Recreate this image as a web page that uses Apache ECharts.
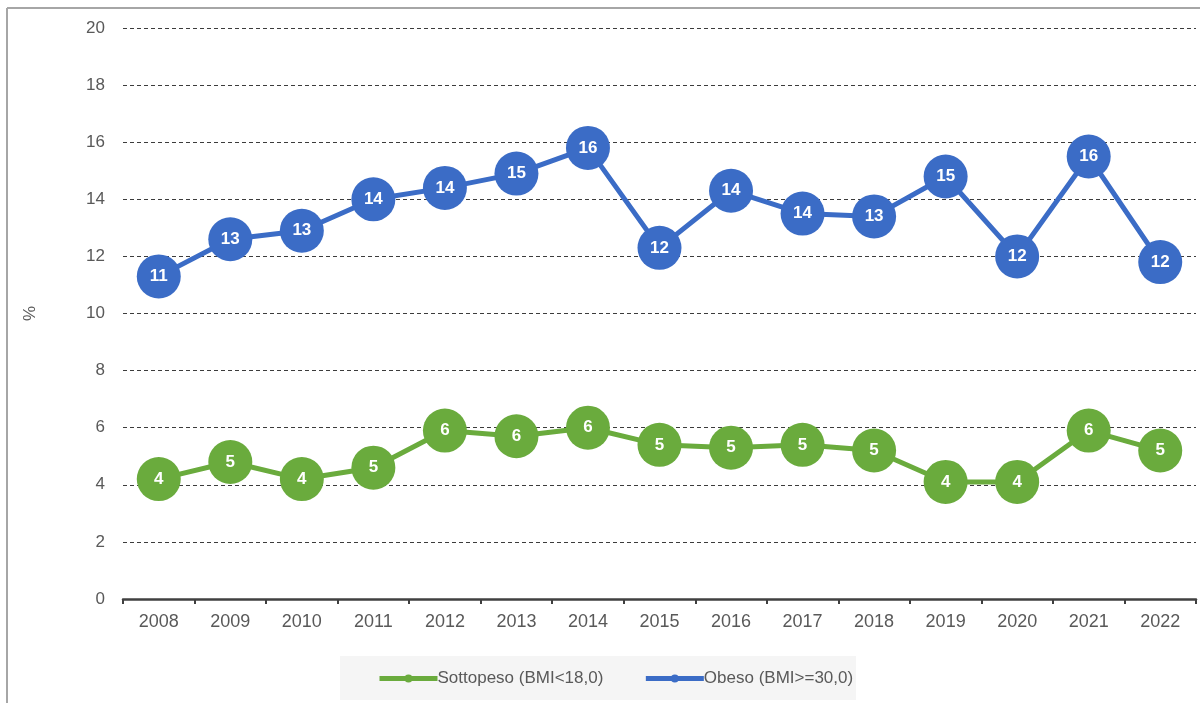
<!DOCTYPE html>
<html>
<head>
<meta charset="utf-8">
<script src="https://cdn.jsdelivr.net/npm/echarts@6/dist/echarts.min.js"></script>
<style>
  html, body { margin: 0; padding: 0; background: #ffffff; }
  #chart { width: 1200px; height: 703px; }
</style>
</head>
<body>
<div id="chart"></div>
<script>
// Years on the category axis
const years = ['2008', '2009', '2010', '2011', '2012', '2013', '2014', '2015',
               '2016', '2017', '2018', '2019', '2020', '2021', '2022'];

// Share of the population (%) by BMI class
const sottopeso = [4.2, 4.8, 4.2, 4.6, 5.9, 5.7, 6.0, 5.4, 5.3, 5.4, 5.2, 4.1, 4.1, 5.9, 5.2];
const obeso = [11.3, 12.6, 12.9, 14.0, 14.4, 14.9, 15.8, 12.3, 14.3, 13.5, 13.4, 14.8, 12.0, 15.5, 11.8];

const seriesNames = ['Sottopeso (BMI<18,0)', 'Obeso (BMI>=30,0)'];

const GREEN = '#6aab3d';
const BLUE = '#3b6cc6';
const TEXT = '#595959';
const FONT = '"Liberation Sans", Arial, sans-serif';

const chart = echarts.init(document.getElementById('chart'), null, { renderer: 'canvas' });

function lineSeries(name, data, color) {
  return {
    name: name,
    type: 'line',
    data: data,
    symbol: 'circle',
    symbolSize: 44,
    lineStyle: { color: color, width: 5 },
    itemStyle: { color: color },
    label: {
      show: true,
      position: 'inside',
      color: '#ffffff',
      fontFamily: FONT,
      fontWeight: 'bold',
      fontSize: 17,
      formatter: p => String(Math.round(p.value))
    },
    emphasis: { disabled: true },
    animation: false,
    z: 3
  };
}

chart.setOption({
  animation: false,
  backgroundColor: '#ffffff',
  textStyle: { fontFamily: FONT },
  graphic: [
    // outer frame (left and top edges)
    { type: 'line', shape: { x1: 7, y1: 8, x2: 7, y2: 703 }, style: { stroke: '#a6a6a6', lineWidth: 2 }, silent: true },
    { type: 'line', shape: { x1: 7, y1: 8, x2: 1200, y2: 8 }, style: { stroke: '#a6a6a6', lineWidth: 2 }, silent: true },
    // legend panel
    { type: 'rect', shape: { x: 340, y: 656, width: 516, height: 44 }, style: { fill: '#f5f5f5' }, silent: true, z: -1 }
  ],
  grid: { left: 123, right: 4, top: 28, bottom: 104, containLabel: false },
  legend: {
    data: seriesNames,
    left: 372,
    top: 665,
    itemWidth: 58,
    itemHeight: 10,
    itemGap: 40,
    lineStyle: { width: 5 },
    itemStyle: { borderWidth: 0 },
    textStyle: { color: TEXT, fontSize: 17, fontFamily: FONT, padding: [0, 0, 0, -5] },
    selectedMode: false
  },
  xAxis: {
    type: 'category',
    data: years,
    boundaryGap: true,
    axisLine: { show: true, lineStyle: { color: '#404040', width: 2.5 } },
    axisTick: { show: true, inside: false, length: 5, lineStyle: { color: '#404040', width: 2 }, alignWithLabel: false },
    axisLabel: { color: TEXT, fontSize: 18, fontFamily: FONT, margin: 14 },
    splitLine: { show: false }
  },
  yAxis: {
    type: 'value',
    min: 0,
    max: 20,
    interval: 2,
    name: '%',
    nameLocation: 'middle',
    nameGap: 84,
    nameRotate: 90,
    nameTextStyle: { color: TEXT, fontSize: 17, fontFamily: FONT },
    axisLine: { show: false },
    axisTick: { show: false },
    axisLabel: { color: TEXT, fontSize: 17, fontFamily: FONT, margin: 18 },
    splitLine: { show: true, lineStyle: { color: '#3c3c3c', width: 1.2, type: [4, 3] } }
  },
  series: [
    lineSeries(seriesNames[0], sottopeso, GREEN),
    lineSeries(seriesNames[1], obeso, BLUE)
  ]
});
</script>
</body>
</html>
